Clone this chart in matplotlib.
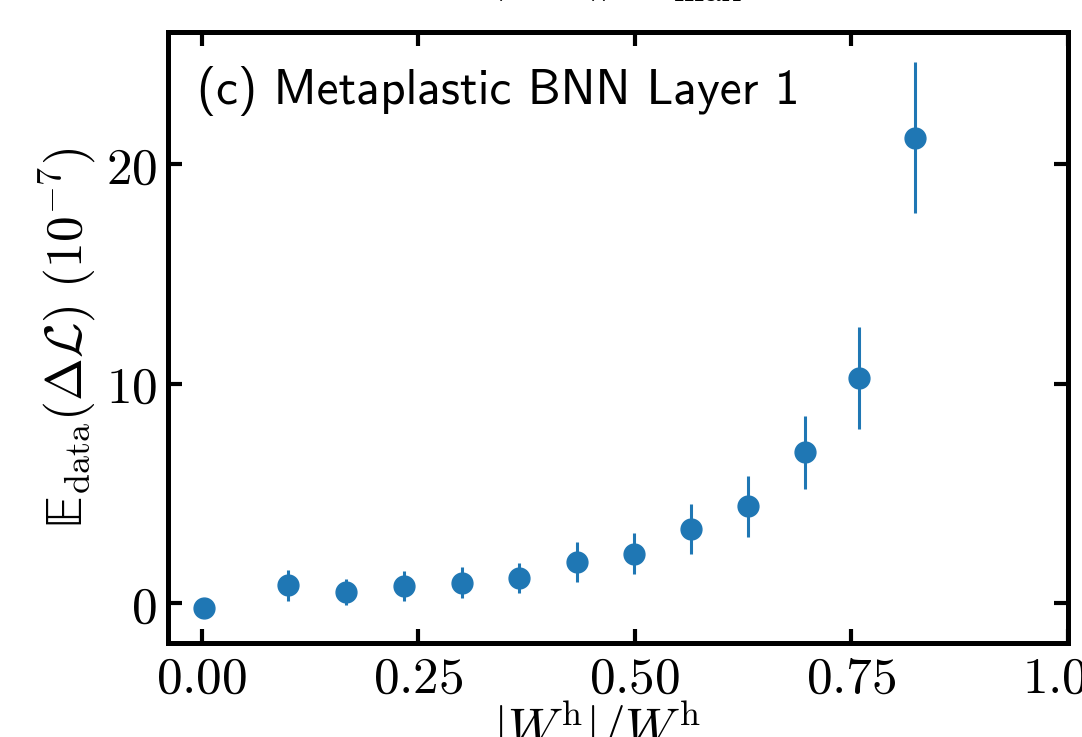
import numpy as np
import matplotlib
matplotlib.use("Agg")
import matplotlib.pyplot as plt
from matplotlib.ticker import FuncFormatter

plt.rcParams["mathtext.fontset"] = "cm"

# binned hidden-weight magnitude vs. expected loss change
w_ratio = [0.003, 0.100, 0.167, 0.233, 0.300, 0.366, 0.433, 0.499, 0.565, 0.631, 0.696, 0.759, 0.823]
dloss = [-0.22, 0.82, 0.52, 0.78, 0.95, 1.16, 1.89, 2.27, 3.39, 4.42, 6.87, 10.26, 21.19]
dloss_err = [0.15, 0.72, 0.60, 0.69, 0.72, 0.67, 0.91, 0.93, 1.15, 1.39, 1.68, 2.31, 3.44]

xticks = [0.0, 0.25, 0.5, 0.75, 1.0]
yticks = [0, 10, 20]

xlabel = r"$|W^{\rm h}|/W^{\rm h}_{\rm max}$"
ylabel = r"$\mathrm{𝔼}_{\rm data}(\Delta\mathcal{L})\ (10^{-7})$"
panel = "(c) Metaplastic BNN Layer 1"

fig = plt.figure(figsize=(10.82, 7.37), dpi=100)
ax = fig.add_axes([0.1553, 0.1275, 0.8317, 0.8291])

ax.errorbar(w_ratio, dloss, yerr=dloss_err, fmt="o", color="#1f77b4",
            markersize=15, elinewidth=2.2, capsize=0)

ax.set_xlim(-0.039, 1.0)
ax.set_ylim(-1.8, 26.0)
ax.set_xticks(xticks)
ax.set_yticks(yticks)
ax.xaxis.set_major_formatter(FuncFormatter(lambda v, p: rf"${v:.2f}$"))
ax.yaxis.set_major_formatter(FuncFormatter(lambda v, p: rf"${v:.0f}$"))
ax.tick_params(axis="both", which="major", direction="in", length=10, width=3,
               top=True, right=True, labelsize=37, pad=8)
for sp in ax.spines.values():
    sp.set_linewidth(3.6)

ax.set_xlabel(xlabel, fontsize=37, labelpad=-4)
ax.set_ylabel(ylabel, fontsize=37, labelpad=6)

ax.text(0.032, 0.945, panel, transform=ax.transAxes, fontsize=35.5,
        family="cmss10", va="top", ha="left")

# x label of the panel above, only its lower edge is inside the figure
fig.text(0.571, 0.994, xlabel, fontsize=37, ha="center", va="bottom")

fig.savefig("out.png", dpi=100)
